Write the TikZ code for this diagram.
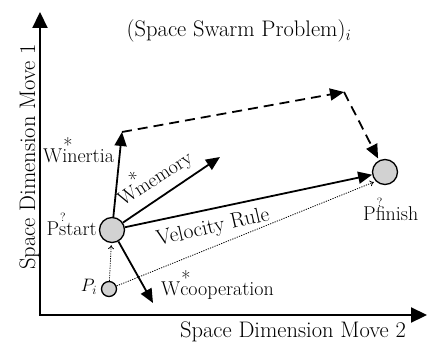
\RequirePackage{fix-cm}
\documentclass[tikz,border=0pt]{standalone}
\usetikzlibrary{arrows.meta,positioning}

% etiquetas con marca encima
\newcommand{\wlab}[1]{W\rlap{\hspace{1pt}\raisebox{10pt}{*}}#1}
\newcommand{\plab}[1]{P\rlap{\hspace{1pt}\raisebox{14pt}{\fontsize{12}{12}\selectfont ?}}#1}

\tikzset{
  axes/.style={line width=2.2pt, {Triangle[length=16pt,width=15pt]}-{Triangle[length=16pt,width=15pt]}},
  warrow/.style={line width=1.8pt, -{Triangle[length=14pt,width=12pt]}},
  dasharrow/.style={warrow, dash pattern=on 10pt off 6pt},
  dotarrow/.style={line width=0.8pt, dash pattern=on 1.2pt off 1.2pt, -{To[length=4pt,width=6pt]}, shorten >=2pt},
  particle/.style={circle, draw, line width=1.3pt, fill=gray!35, inner sep=0pt},
  lbl/.style={font=\fontsize{20}{23}\selectfont, inner sep=0pt},
  big/.style={font=\fontsize{22.5}{26}\selectfont, inner sep=0pt}
}

\begin{document}
\begin{tikzpicture}[x=1pt,y=-1pt]
    \useasboundingbox (0,0) rectangle (427,347);

    % Ejes
    \coordinate (ytop) at (40,12);
    \coordinate (o) at (40,315);
    \coordinate (xend) at (427,315);
    \draw[axes] (ytop) -- (o) -- (xend);

    % Particulas
    \node[particle, minimum size=25pt] (start) at (112,230) {};
    \node[particle, minimum size=25pt] (finish) at (385,172) {};
    \node[particle, minimum size=15pt] (pi) at (109,289) {};

    % Puntas de los vectores
    \coordinate (inert) at (122,132);
    \coordinate (memo) at (220,157);
    \coordinate (coop) at (153,303);
    \coordinate (turn) at (344,92);

    % Vectores
    \draw[warrow] (start) -- (inert);
    \draw[warrow] (start) -- (memo);
    \draw[warrow] (start) -- (coop);
    \draw[warrow] (start) -- (finish);

    % Camino discontinuo
    \draw[dasharrow] (inert) -- (turn);
    \draw[dasharrow, shorten >=2pt] (turn) -- (finish);

    % Flechas punteadas desde P_i
    \draw[dotarrow] (pi) -- (start);
    \draw[dotarrow] (pi) -- (finish.south west);

    % Etiquetas
    \node[lbl, anchor=base west] at (43,163) {\wlab{inertia}};
    \node[lbl, anchor=base west, rotate=33] at (123,207) {\wlab{memory}};
    \node[lbl, anchor=base west] at (161,295) {\wlab{cooperation}};
    \node[lbl, anchor=base east] at (97,235) {\plab{start}};
    \node[lbl, anchor=base west] at (363,220) {\plab{finish}};
    \node[lbl, anchor=base west, rotate=13, font=\fontsize{21.5}{24}\selectfont] at (158,246) {Velocity Rule};
    \node[font=\fontsize{18}{18}\selectfont, inner sep=0pt] at (89,287) {$P_i$};

    % Titulo y ejes
    \node[big, anchor=base] at (239,37) {(Space Swarm Problem)$_i$};
    \node[big, anchor=base] at (293,337) {Space Dimension Move 2};
    \node[big, anchor=base, rotate=90] at (35,157) {Space Dimension Move 1};
\end{tikzpicture}
\end{document}
